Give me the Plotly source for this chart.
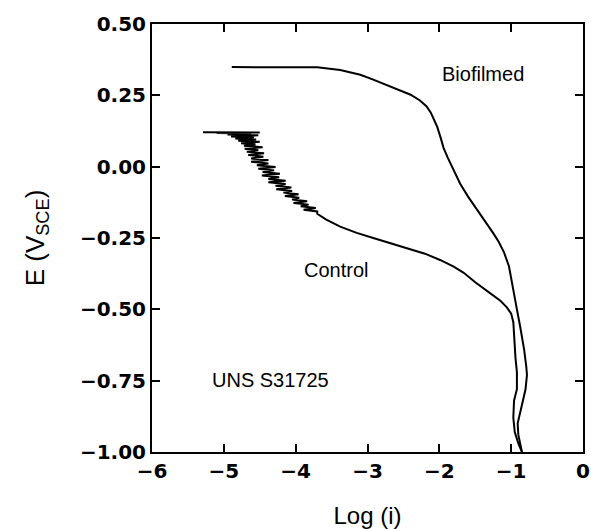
import plotly.graph_objects as go

# Biofilmed polarization curve (Log(i), E)
bio_x = [-4.89, -4.60, -4.30, -4.08, -3.70, -3.38, -3.10, -2.92, -2.70, -2.55, -2.40,
         -2.27, -2.18, -2.12, -2.07, -2.03, -1.98, -1.94, -1.88, -1.80, -1.71, -1.60,
         -1.47, -1.36, -1.25, -1.17, -1.10, -1.03, -0.97, -0.92, -0.875, -0.82, -0.79,
         -0.78, -0.80, -0.84, -0.87, -0.91, -0.90, -0.87, -0.85]
bio_y = [0.349, 0.349, 0.350, 0.350, 0.348, 0.339, 0.322, 0.305, 0.283, 0.268, 0.252,
         0.232, 0.212, 0.190, 0.165, 0.140, 0.100, 0.065, 0.030, -0.010, -0.060, -0.105,
         -0.152, -0.190, -0.233, -0.265, -0.300, -0.350, -0.440, -0.500, -0.560, -0.640, -0.700,
         -0.730, -0.780, -0.820, -0.860, -0.900, -0.940, -0.970, -1.000]

# Control polarization curve (noisy near open circuit)
ctrl_x = [-5.29, -4.50, -5.10, -4.62, -4.95, -4.52, -4.90, -4.58, -4.84, -4.55, -4.80,
          -4.50, -4.76, -4.56, -4.72, -4.46, -4.71, -4.52, -4.68, -4.44, -4.66, -4.45,
          -4.62, -4.38, -4.62, -4.38, -4.54, -4.28, -4.52, -4.30, -4.46, -4.22, -4.47,
          -4.23, -4.38, -4.14, -4.38, -4.14, -4.28, -4.06, -4.27, -4.05, -4.17, -3.96,
          -4.15, -3.95, -4.05, -3.84, -4.03, -3.82, -3.93, -3.72, -3.89, -3.70, -3.70,
          -3.58, -3.38, -3.15, -2.92, -2.70, -2.45, -2.20, -1.99, -1.80, -1.66, -1.50,
          -1.29, -1.15, -1.06, -1.00, -0.97, -0.96, -0.94, -0.92, -0.92, -0.96, -0.97,
          -0.95, -0.90, -0.85]
ctrl_y = [0.121, 0.120, 0.118, 0.116, 0.113, 0.110, 0.106, 0.103, 0.099, 0.095, 0.091,
          0.087, 0.082, 0.078, 0.073, 0.068, 0.063, 0.058, 0.052, 0.047, 0.041, 0.035,
          0.029, 0.023, 0.017, 0.011, 0.005, -0.001, -0.007, -0.013, -0.019, -0.025, -0.031,
          -0.037, -0.043, -0.049, -0.055, -0.061, -0.067, -0.073, -0.079, -0.085, -0.091, -0.097,
          -0.103, -0.109, -0.115, -0.121, -0.127, -0.133, -0.139, -0.145, -0.151, -0.157, -0.165,
          -0.185, -0.210, -0.232, -0.250, -0.266, -0.285, -0.305, -0.327, -0.350, -0.372, -0.405,
          -0.444, -0.470, -0.493, -0.515, -0.545, -0.600, -0.670, -0.720, -0.780, -0.820, -0.880,
          -0.930, -0.970, -1.000]

x_ticks = [-6, -5, -4, -3, -2, -1, 0]
y_ticks = [-1.00, -0.75, -0.50, -0.25, 0.00, 0.25, 0.50]

labels = ["Biofilmed", "Control", "UNS S31725"]
label_x = [-1.39, -3.445, -4.345]
label_y = [0.325, -0.362, -0.748]

fig = go.Figure()
fig.add_trace(go.Scatter(x=bio_x, y=bio_y, mode="lines", name="Biofilmed",
                         line=dict(color="black", width=2)))
fig.add_trace(go.Scatter(x=ctrl_x, y=ctrl_y, mode="lines", name="Control",
                         line=dict(color="black", width=2)))

for t, xx, yy in zip(labels, label_x, label_y):
    fig.add_annotation(x=xx, y=yy, text=t, showarrow=False,
                       font=dict(family="Liberation Sans, Arial", size=20, color="black"))

tickfont = dict(family="DejaVu Sans", size=20, color="black", weight="bold")
fig.update_xaxes(range=[-6, 0], tickvals=x_ticks, ticks="inside", ticklen=8, tickwidth=2,
                 tickcolor="black",
                 showline=True, linecolor="black", linewidth=2, mirror="ticks",
                 showgrid=False, zeroline=False, tickfont=tickfont,
                 title=dict(text="Log (i)", standoff=28,
                            font=dict(family="Liberation Sans, Arial", size=24, color="black")))
fig.update_yaxes(range=[-1.0, 0.5], tickvals=y_ticks, tickformat=".2f", ticks="inside",
                 ticklen=8, tickwidth=2, tickcolor="black", ticksuffix="\u00a0\u2009",
                 showline=True, linecolor="black", linewidth=2,
                 mirror="ticks", showgrid=False, zeroline=False, tickfont=tickfont,
                 title=dict(text="E (V<sub>SCE</sub>)", standoff=28,
                            font=dict(family="Liberation Sans, Arial", size=26, color="black")))
fig.update_layout(width=591, height=529, showlegend=False,
                  margin=dict(l=152, r=8, t=24, b=77, autoexpand=False),
                  plot_bgcolor="white", paper_bgcolor="white")
fig.write_html("out.html", config={"displayModeBar": False},
               post_script="document.body.style.margin='0';")
